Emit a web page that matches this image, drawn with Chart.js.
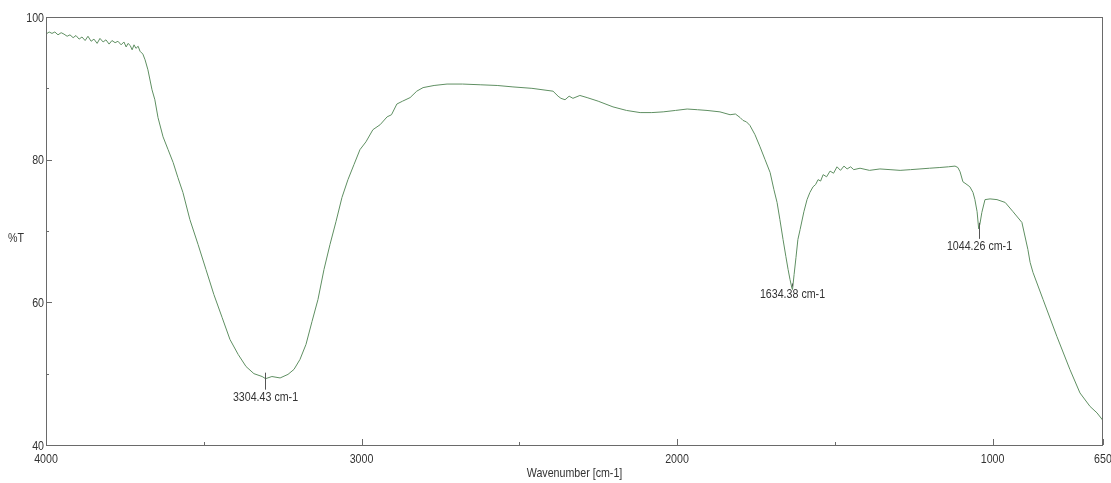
<!DOCTYPE html>
<html>
<head>
<meta charset="utf-8">
<script src="https://cdn.jsdelivr.net/npm/chart.js@4/dist/chart.umd.min.js"></script>
<style>
  html, body { margin: 0; padding: 0; background: #fff; }
  #wrap { width: 1111px; height: 483px; }
</style>
</head>
<body>
<div id="wrap"><canvas id="irChart"></canvas></div>
<script>
// spectrum (wavenumber cm-1 / %T)
const wavenumbers = [
  4000, 3990, 3981, 3972, 3962, 3952, 3943, 3933, 3924, 3914,
  3905, 3895, 3886, 3876, 3867, 3857, 3848, 3838, 3829, 3819,
  3810, 3800, 3791, 3781, 3772, 3762, 3753, 3746, 3740, 3733,
  3727, 3721, 3715, 3708, 3702, 3693, 3686, 3677, 3664, 3655,
  3645, 3629, 3613, 3597, 3582, 3566, 3544, 3518, 3493, 3468,
  3442, 3417, 3391, 3366, 3341, 3315, 3304, 3284, 3258, 3233,
  3214, 3195, 3176, 3157, 3138, 3119, 3100, 3081, 3062, 3043,
  3024, 3005, 2986, 2964, 2941, 2919, 2905, 2888, 2870, 2846,
  2825, 2805, 2770, 2729, 2680, 2624, 2570, 2520, 2460, 2393,
  2377, 2368, 2355, 2342, 2330, 2308, 2285, 2250, 2203, 2160,
  2117, 2080, 2044, 2005, 1968, 1935, 1905, 1864, 1832, 1815,
  1800, 1791, 1780, 1769, 1753, 1737, 1721, 1705, 1693, 1683,
  1674, 1664, 1655, 1648, 1642, 1636, 1634, 1629, 1623, 1617,
  1610, 1598, 1588, 1579, 1569, 1561, 1553, 1545, 1537, 1526,
  1515, 1504, 1493, 1482, 1471, 1461, 1450, 1440, 1420, 1390,
  1357, 1325, 1293, 1260, 1230, 1200, 1167, 1140, 1119, 1110,
  1103, 1094, 1081, 1072, 1062, 1056, 1049, 1044, 1040, 1034,
  1024, 1008, 986, 960, 935, 907, 888, 881, 872, 840,
  796, 755, 723, 691, 669, 653, 650
];
const transmittance = [
  97.6, 97.9, 97.7, 97.9, 97.5, 97.8, 97.6, 97.3, 97.5, 97.1,
  97.4, 96.9, 97.2, 96.7, 97.3, 96.6, 96.9, 96.3, 97.0, 96.5,
  96.8, 96.2, 96.7, 96.4, 96.6, 96.1, 96.5, 95.8, 96.3, 96.0,
  95.4, 96.1, 95.6, 95.9, 95.2, 94.8, 94.0, 92.6, 89.8, 88.4,
  85.9, 83.2, 81.4, 79.6, 77.5, 75.4, 71.6, 68.1, 64.6, 61.1,
  57.9, 54.8, 52.7, 51.0, 50.0, 49.6, 49.3, 49.6, 49.4, 49.9,
  50.6, 52.0, 54.1, 57.3, 60.4, 64.6, 68.1, 71.3, 74.7, 77.2,
  79.3, 81.4, 82.5, 84.2, 84.9, 86.0, 86.3, 87.8, 88.2, 88.7,
  89.6, 90.1, 90.4, 90.6, 90.6, 90.5, 90.4, 90.2, 90.0, 89.6,
  88.9, 88.6, 88.4, 88.9, 88.6, 89.0, 88.7, 88.2, 87.4, 86.9,
  86.6, 86.6, 86.7, 86.9, 87.1, 87.0, 86.9, 86.7, 86.3, 86.4,
  85.9, 85.5, 85.3, 84.8, 83.5, 81.8, 80.0, 78.2, 75.8, 74.0,
  71.6, 68.8, 66.4, 64.6, 63.2, 62.0, 61.8, 63.9, 66.3, 68.8,
  70.2, 72.7, 74.4, 75.4, 76.2, 76.5, 77.2, 77.0, 77.9, 77.6,
  78.4, 78.1, 79.0, 78.5, 79.1, 78.7, 79.0, 78.6, 78.8, 78.5,
  78.7, 78.6, 78.5, 78.6, 78.7, 78.8, 78.9, 79.0, 79.1, 78.9,
  78.3, 76.9, 76.5, 76.2, 75.4, 74.4, 72.7, 70.3, 71.0, 72.6,
  74.4, 74.5, 74.4, 74.0, 72.7, 71.2, 67.4, 65.6, 64.2, 60.4,
  55.2, 50.6, 47.3, 45.4, 44.5, 43.6, 43.3
];

// axis ticks
const xTicks = [4000, 3000, 2000, 1000, 650];
const xMinorTicks = [3500, 2500, 1500];
const yTicks = [40, 60, 80, 100];
const yMinorTicks = [50, 70, 90];

// peak picks
const peakWn = [3304.43, 1634.38, 1044.26];
const peakT = [49.3, 61.8, 70.3];
const peakLabels = ['3304.43 cm-1', '1634.38 cm-1', '1044.26 cm-1'];

const FONT = "13px 'Liberation Sans', Arial, sans-serif";
const labelDy = [12, -2, 11];

// the original uses a narrow face, squeeze the text a bit
function narrowText(ctx, str, x, y) {
  ctx.save();
  ctx.translate(x, y);
  ctx.scale(0.82, 1);
  ctx.fillText(str, 0, 0);
  ctx.restore();
}

const framePlugin = {
  id: 'frame',
  afterDraw(chart) {
    const ctx = chart.ctx;
    const { left, right, top, bottom } = chart.chartArea;
    const xs = chart.scales.x, ys = chart.scales.y;
    ctx.save();
    ctx.strokeStyle = '#6a6a6a';
    ctx.lineWidth = 1;
    ctx.strokeRect(left + 0.5, top + 0.5, right - left - 1, bottom - top);

    // ticks, drawn inward
    ctx.beginPath();
    yTicks.forEach(v => { const y = Math.round(ys.getPixelForValue(v)) + 0.5; ctx.moveTo(left, y); ctx.lineTo(left + 6, y); });
    yMinorTicks.forEach(v => { const y = Math.round(ys.getPixelForValue(v)) + 0.5; ctx.moveTo(left, y); ctx.lineTo(left + 3, y); });
    xTicks.forEach(v => { const x = Math.round(xs.getPixelForValue(v)) + 0.5; ctx.moveTo(x, bottom); ctx.lineTo(x, bottom - 6); });
    xMinorTicks.forEach(v => { const x = Math.round(xs.getPixelForValue(v)) + 0.5; ctx.moveTo(x, bottom); ctx.lineTo(x, bottom - 3); });
    ctx.stroke();

    ctx.fillStyle = '#333';
    ctx.font = FONT;
    ctx.textAlign = 'right';
    ctx.textBaseline = 'middle';
    yTicks.forEach(v => narrowText(ctx, String(v), left - 2, ys.getPixelForValue(v) + 1));
    ctx.textAlign = 'center';
    ctx.textBaseline = 'top';
    xTicks.forEach(v => narrowText(ctx, String(v), xs.getPixelForValue(v), bottom + 8));

    // axis titles
    ctx.textBaseline = 'middle';
    narrowText(ctx, 'Wavenumber [cm-1]', (left + right) / 2, 473);
    ctx.textAlign = 'left';
    narrowText(ctx, '%T', 8, 238);

    // peak annotations
    ctx.textAlign = 'center';
    ctx.textBaseline = 'top';
    ctx.strokeStyle = '#555';
    peakWn.forEach((wn, i) => {
      const x = Math.round(xs.getPixelForValue(wn)) + 0.5;
      const y = ys.getPixelForValue(peakT[i]);
      ctx.beginPath();
      ctx.moveTo(x, y - 6);
      ctx.lineTo(x, y + labelDy[i] - 1);
      ctx.stroke();
      narrowText(ctx, peakLabels[i], x, y + labelDy[i]);
    });
    ctx.restore();
  }
};

new Chart(document.getElementById('irChart'), {
  type: 'line',
  data: {
    datasets: [{
      label: '%T',
      data: wavenumbers.map((w, i) => ({ x: w, y: transmittance[i] })),
      borderColor: '#5f8f62',
      borderWidth: 1,
      pointRadius: 0,
      tension: 0,
      fill: false
    }]
  },
  options: {
    responsive: true,
    maintainAspectRatio: false,
    animation: false,
    layout: { padding: { top: 17, right: 8, left: 0, bottom: 0 } },
    plugins: { legend: { display: false }, tooltip: { enabled: false } },
    scales: {
      x: {
        type: 'linear',
        reverse: true,
        min: 650,
        max: 4000,
        grid: { display: false },
        border: { display: false },
        ticks: { display: false },
        afterFit(scale) { scale.height = 38; }
      },
      y: {
        min: 40,
        max: 100,
        grid: { display: false },
        border: { display: false },
        ticks: { display: false },
        afterFit(scale) { scale.width = 46; }
      }
    }
  },
  plugins: [framePlugin]
});
</script>
</body>
</html>
